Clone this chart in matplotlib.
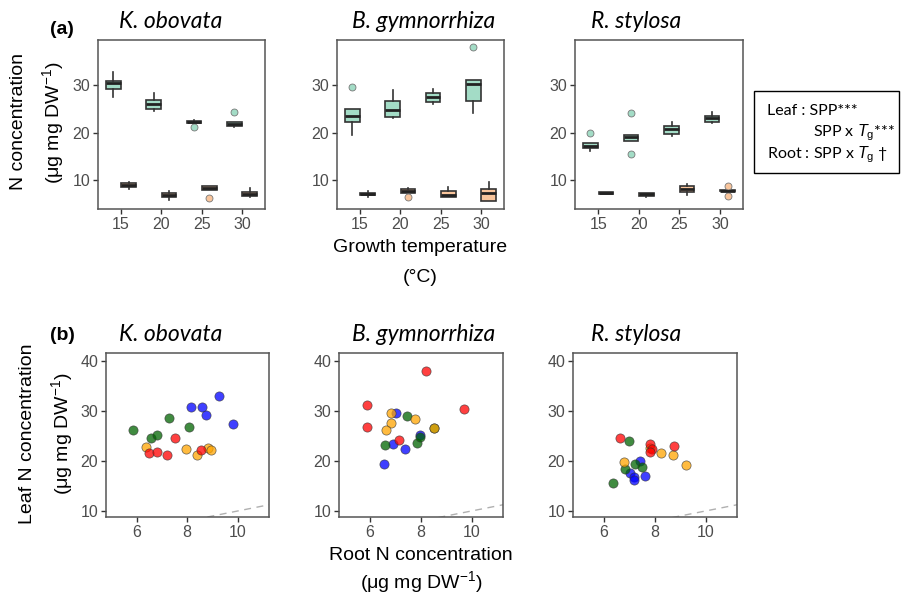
import matplotlib
matplotlib.use("Agg")
import matplotlib.pyplot as plt
from matplotlib.patches import Rectangle

plt.rcParams['font.family'] = ['Liberation Sans', 'DejaVu Sans']
plt.rcParams['mathtext.fontset'] = 'custom'
plt.rcParams['mathtext.rm'] = 'Liberation Sans'
plt.rcParams['mathtext.it'] = 'Liberation Sans:italic'

temps = [15, 20, 25, 30]
species = ["K. obovata", "B. gymnorrhiza", "R. stylosa"]

# box stats per temperature: [whislo, q1, med, q3, whishi]
ko_leaf = [[27.5, 29.2, 30.4, 30.9, 32.9], [24.6, 25.1, 26.1, 26.9, 28.4],
           [22.0, 22.0, 22.3, 22.5, 22.6], [21.1, 21.4, 21.8, 22.2, 22.3]]
ko_leaf_out = [[], [], [21.2], [24.4]]
ko_root = [[8.0, 8.5, 8.9, 9.3, 9.6], [5.8, 6.35, 6.8, 7.2, 7.7],
           [7.8, 7.8, 8.3, 8.7, 8.8], [6.35, 6.55, 7.0, 7.5, 8.4]]
ko_root_out = [[], [], [6.1], []]

bg_leaf = [[19.5, 22.3, 23.5, 25.1, 25.1], [23.2, 23.4, 24.8, 26.6, 29.0],
           [26.1, 26.5, 27.6, 28.3, 29.2], [24.1, 26.7, 30.3, 31.1, 31.1]]
bg_leaf_out = [[29.6], [], [], [38.0]]
bg_root = [[6.5, 6.8, 7.1, 7.3, 7.7], [7.2, 7.2, 7.6, 8.0, 8.4],
           [6.5, 6.5, 6.8, 7.7, 8.5], [5.6, 5.6, 7.2, 8.1, 9.6]]
bg_root_out = [[], [6.5], [], []]

rs_leaf = [[16.2, 16.7, 17.2, 17.75, 17.75], [18.3, 18.3, 19.0, 19.5, 19.5],
           [19.3, 19.7, 20.7, 21.4, 22.3], [22.0, 22.3, 23.0, 23.5, 24.4]]
rs_leaf_out = [[19.9], [24.1, 15.4], [], []]
rs_root = [[7.0, 7.0, 7.2, 7.4, 7.5], [6.35, 6.7, 7.0, 7.2, 7.3],
           [6.8, 7.5, 8.1, 8.7, 9.1], [7.6, 7.6, 7.7, 7.8, 7.8]]
rs_root_out = [[], [], [], [8.7, 6.6]]

# root N (x) vs leaf N (y), one list per temperature: 15, 20, 25, 30
ko_x = [[8.15, 8.57, 8.73, 9.25, 9.82], [5.84, 6.55, 6.82, 7.29, 8.05],
        [6.36, 7.97, 8.38, 8.81, 8.96], [6.50, 6.82, 7.20, 7.53, 8.53]]
ko_y = [[30.8, 30.7, 29.1, 32.9, 27.4], [26.1, 24.5, 25.1, 28.6, 26.8],
        [22.7, 22.3, 21.2, 22.5, 22.2], [21.5, 21.7, 21.1, 24.5, 22.1]]
bg_x = [[7.01, 6.92, 7.38, 6.57, 7.96], [6.61, 7.46, 7.87, 7.96, 8.54],
        [6.81, 6.84, 6.65, 7.79, 8.54], [5.87, 5.87, 8.19, 9.70, 7.14]]
bg_y = [[29.6, 23.4, 22.4, 19.4, 25.1], [23.1, 28.9, 23.5, 24.8, 26.5],
        [29.5, 27.5, 26.1, 28.3, 26.5], [31.1, 26.7, 37.9, 30.3, 24.1]]
rs_x = [[7.04, 7.17, 7.19, 7.43, 7.61], [6.37, 6.99, 6.84, 7.24, 7.49],
        [6.80, 7.80, 8.23, 8.73, 9.25], [6.63, 7.83, 7.91, 7.81, 8.76]]
rs_y = [[17.6, 16.7, 16.1, 19.9, 16.9], [15.5, 24.0, 18.4, 19.3, 18.8],
        [19.8, 22.5, 21.6, 21.1, 19.2], [24.6, 23.4, 22.3, 21.7, 22.9]]

leaf_box = [(ko_leaf, ko_leaf_out), (bg_leaf, bg_leaf_out), (rs_leaf, rs_leaf_out)]
root_box = [(ko_root, ko_root_out), (bg_root, bg_root_out), (rs_root, rs_root_out)]
scat = [(ko_x, ko_y), (bg_x, bg_y), (rs_x, rs_y)]

leaf_col = "#a3dcc6"
root_col = "#f9c59c"
pt_cols = ["#0000ff", "#006400", "#ffa500", "#ff0000"]

W, H = 901, 597
fig = plt.figure(figsize=(W / 100, H / 100), dpi=100)


def box_px(x0, y0, x1, y1):
    return [x0 / W, 1 - y1 / H, (x1 - x0) / W, (y1 - y0) / H]


def style(ax):
    for s in ax.spines.values():
        s.set_color("#555555")
        s.set_linewidth(1.1)
    ax.tick_params(direction="out", length=3.5, width=1, color="#333333",
                   labelcolor="#4d4d4d", labelsize=11.5, pad=2)


def make_stats(vals, outs):
    st = []
    for v, o in zip(vals, outs):
        st.append(dict(whislo=v[0], q1=v[1], med=v[2], q3=v[3], whishi=v[4], fliers=o))
    return st


top_x = [(98, 265), (337, 504), (575, 743)]
bot_x = [(106, 269), (339, 503), (573, 737)]
title_cx = [171, 424, 636]

for i in range(3):
    ax = fig.add_axes(box_px(top_x[i][0], 40, top_x[i][1], 209))
    pos = list(range(1, 5))
    for (vals, outs), off, col in [(leaf_box[i], -0.19, leaf_col), (root_box[i], 0.19, root_col)]:
        ax.bxp(make_stats(vals, outs), positions=[p + off for p in pos], widths=0.36,
               patch_artist=True, showcaps=False,
               boxprops=dict(facecolor=col, edgecolor="#333333", linewidth=1.2),
               whiskerprops=dict(color="#333333", linewidth=1.2),
               medianprops=dict(color="#222222", linewidth=2.0),
               flierprops=dict(marker="o", markerfacecolor=col, markeredgecolor="#777777",
                               markeredgewidth=0.6, markersize=5))
    ax.set_xlim(0.43, 4.57)
    ax.set_ylim(3.88, 39.57)
    ax.set_xticks(pos)
    ax.set_xticklabels([str(t) for t in temps])
    ax.set_yticks([10, 20, 30])
    style(ax)
    fig.text(title_cx[i] / W, 1 - 21 / H, species[i], ha="center", va="center",
             fontsize=16.5, style="italic", family="Lato")

for i in range(3):
    ax = fig.add_axes(box_px(bot_x[i][0], 353, bot_x[i][1], 517))
    xs, ys = scat[i]
    ax.plot([0, 50], [0, 50], ls=(0, (5, 4)), color="#b0b0b0", lw=1.0, zorder=1)
    for k in range(4):
        ax.scatter(xs[k], ys[k], s=44, color=pt_cols[k], alpha=0.75,
                   edgecolors="#333333", linewidths=0.5, zorder=3)
    ax.set_xlim(4.78, 11.24)
    ax.set_ylim(8.8, 41.5)
    ax.set_xticks([6, 8, 10])
    ax.set_yticks([10, 20, 30, 40])
    style(ax)
    fig.text(title_cx[i] / W, 1 - 335 / H, species[i], ha="center", va="center",
             fontsize=16.5, style="italic", family="Lato")

# panel letters and axis labels
fig.text(62 / W, 1 - 29 / H, "(a)", ha="center", va="center", fontsize=14, weight="bold")
fig.text(62 / W, 1 - 336 / H, "(b)", ha="center", va="center", fontsize=14, weight="bold")

fig.text(19 / W, 1 - 122 / H, "N concentration", rotation=90, ha="center", va="center", fontsize=14)
fig.text(53 / W, 1 - 123 / H, "(μg mg DW$^{-1}$)", rotation=90, ha="center", va="center", fontsize=14)
fig.text(28 / W, 1 - 434 / H, "Leaf N concentration", rotation=90, ha="center", va="center", fontsize=14)
fig.text(62 / W, 1 - 434 / H, "(μg mg DW$^{-1}$)", rotation=90, ha="center", va="center", fontsize=14)

fig.text(420 / W, 1 - 247 / H, "Growth temperature", ha="center", va="center", fontsize=14)
fig.text(420 / W, 1 - 277 / H, "(°C)", ha="center", va="center", fontsize=14)
fig.text(421 / W, 1 - 555 / H, "Root N concentration", ha="center", va="center", fontsize=14)
fig.text(421 / W, 1 - 582 / H, "(μg mg DW$^{-1}$)", ha="center", va="center", fontsize=14)

# statistics box
fig.patches.append(Rectangle((754 / W, 1 - 173 / H), 145 / W, 82 / H, transform=fig.transFigure,
                             facecolor="white", edgecolor="black", linewidth=1.0))
fig.text(767 / W, 1 - 111 / H, "Leaf : SPP***", ha="left", va="center", fontsize=11.5, family="Lato")
fig.text(813 / W, 1 - 133 / H, "SPP x $T_\\mathrm{g}$***", ha="left", va="center", fontsize=11.5, family="Lato")
fig.text(767 / W, 1 - 155 / H, "Root : SPP x $T_\\mathrm{g}$ †", ha="left", va="center", fontsize=11.5, family="Lato")

fig.savefig("out.png", dpi=100)
